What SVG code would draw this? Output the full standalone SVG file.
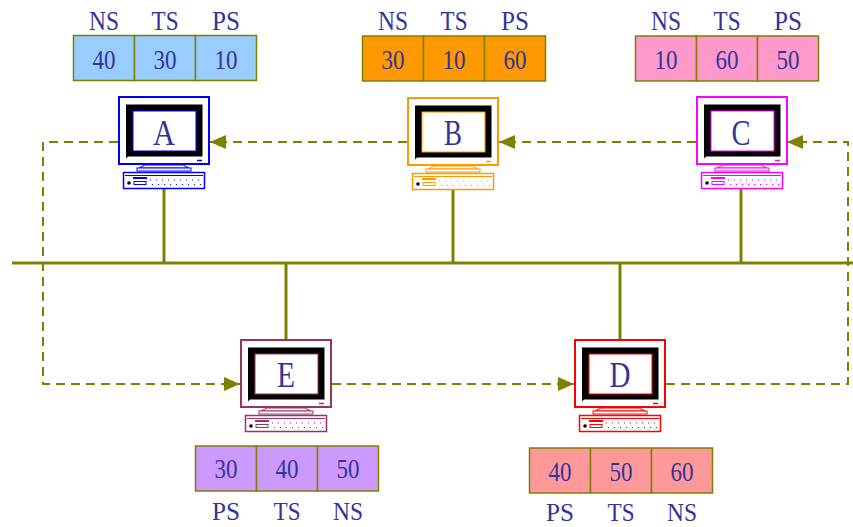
<svg xmlns="http://www.w3.org/2000/svg" xmlns:xlink="http://www.w3.org/1999/xlink" width="853" height="527" viewBox="0 0 853 527">
<style>
  .t{font-family:"Liberation Serif","Times New Roman",serif;fill:#333399;text-anchor:middle}
  .h{font-size:27px}
  .hb{font-size:26px}
  .v{font-size:28px}
  .lbl{font-size:36px}
  .cell{stroke:#808000;stroke-width:1.5}
  .bus{stroke:#808000;stroke-width:3;fill:none}
  .ring{stroke:#808000;stroke-width:2;fill:none;stroke-dasharray:9 6}
</style>
<defs>
  <marker id="arr" markerUnits="userSpaceOnUse" markerWidth="16" markerHeight="14" refX="16" refY="7" orient="auto" viewBox="0 0 16 14">
    <path d="M0,0 L16,7 L0,14 Z" fill="#808000"/>
  </marker>
  <g id="pc" fill="#fff" stroke="currentColor">
    <rect x="1" y="1" width="90" height="67" stroke-width="2"/>
    <path d="M8,8.5 H84.5 V60.5 H10 L8,62.5 Z" fill="#000" stroke="none"/>
    <rect x="15" y="15" width="63" height="40" stroke-width="1"/>
    <line x1="79" y1="64.5" x2="84" y2="64.5" stroke-width="1.5"/>
    <path d="M27,69 L65,69 L71,72 L21,72 Z" stroke-width="1"/>
    <rect x="19" y="72" width="54" height="3" stroke-width="1"/>
    <rect x="5.5" y="76.5" width="81" height="16" stroke-width="1.5"/>
    <line x1="7" y1="79.5" x2="85" y2="79.5" stroke-width="1"/>
    <line x1="15" y1="82" x2="29" y2="82" stroke-width="2"/>
    <circle cx="11" cy="87" r="1.8" fill="#000" stroke="none"/>
    <rect x="16" y="85.5" width="12" height="3" stroke-width="1"/>
    <line x1="32" y1="84" x2="84" y2="84" stroke-width="1.2" stroke-dasharray="1 5"/>
    <line x1="34" y1="88.5" x2="84" y2="88.5" stroke-width="1.2" stroke-dasharray="1 5"/>
  </g>
</defs>
<rect width="853" height="527" fill="#fff"/>

<g id="connectors">
  <line class="bus" x1="12" y1="263" x2="853" y2="263"/>
  <line class="bus" x1="164" y1="189" x2="164" y2="263"/>
  <line class="bus" x1="453" y1="189" x2="453" y2="263"/>
  <line class="bus" x1="741" y1="189" x2="741" y2="263"/>
  <line class="bus" x1="286" y1="263" x2="286" y2="339"/>
  <line class="bus" x1="620" y1="263" x2="620" y2="339"/>
  <path class="ring" d="M407,142 H210" marker-end="url(#arr)"/>
  <path class="ring" d="M696,142 H499" marker-end="url(#arr)"/>
  <path class="ring" d="M666,384 H848 V142 H787" marker-end="url(#arr)"/>
  <path class="ring" d="M332,384 H574" marker-end="url(#arr)"/>
  <path class="ring" d="M118,142 H43 V384 H240" marker-end="url(#arr)"/>
</g>

<g id="nodeA">
  <use xlink:href="#pc" href="#pc" x="118" y="96" style="color:#0000ff"/>
  <text class="t lbl" x="164" y="145" textLength="22" lengthAdjust="spacingAndGlyphs">A</text>
</g>
<g id="nodeB">
  <use xlink:href="#pc" href="#pc" x="407" y="97" style="color:#ff9900"/>
  <text class="t lbl" x="453" y="145" textLength="18" lengthAdjust="spacingAndGlyphs">B</text>
</g>
<g id="nodeC">
  <use xlink:href="#pc" href="#pc" x="696" y="96" style="color:#ff00ff"/>
  <text class="t lbl" x="741" y="145" textLength="19" lengthAdjust="spacingAndGlyphs">C</text>
</g>
<g id="nodeE">
  <use xlink:href="#pc" href="#pc" x="240" y="339" style="color:#993366"/>
  <text class="t lbl" x="286" y="387" textLength="18" lengthAdjust="spacingAndGlyphs">E</text>
</g>
<g id="nodeD">
  <use xlink:href="#pc" href="#pc" x="574" y="339" style="color:#ff0000"/>
  <text class="t lbl" x="620" y="387" textLength="21" lengthAdjust="spacingAndGlyphs">D</text>
</g>

<g id="tableA">
  <rect class="cell" x="73.5" y="35.5" width="61" height="45" fill="#99ccff"/>
  <rect class="cell" x="134.5" y="35.5" width="61" height="45" fill="#99ccff"/>
  <rect class="cell" x="195.5" y="35.5" width="61" height="45" fill="#99ccff"/>
  <text class="t h" x="104" y="30" textLength="30" lengthAdjust="spacingAndGlyphs">NS</text>
  <text class="t h" x="165" y="30" textLength="27" lengthAdjust="spacingAndGlyphs">TS</text>
  <text class="t h" x="226" y="30" textLength="28" lengthAdjust="spacingAndGlyphs">PS</text>
  <text class="t v" x="104" y="69" textLength="23" lengthAdjust="spacingAndGlyphs">40</text>
  <text class="t v" x="165" y="69" textLength="23" lengthAdjust="spacingAndGlyphs">30</text>
  <text class="t v" x="226" y="69" textLength="23" lengthAdjust="spacingAndGlyphs">10</text>
</g>
<g id="tableB">
  <rect class="cell" x="362.5" y="36" width="61" height="45" fill="#ff9900"/>
  <rect class="cell" x="423.5" y="36" width="61" height="45" fill="#ff9900"/>
  <rect class="cell" x="484.5" y="36" width="61" height="45" fill="#ff9900"/>
  <text class="t h" x="393" y="30" textLength="30" lengthAdjust="spacingAndGlyphs">NS</text>
  <text class="t h" x="454" y="30" textLength="27" lengthAdjust="spacingAndGlyphs">TS</text>
  <text class="t h" x="515" y="30" textLength="28" lengthAdjust="spacingAndGlyphs">PS</text>
  <text class="t v" x="393" y="69" textLength="23" lengthAdjust="spacingAndGlyphs">30</text>
  <text class="t v" x="454" y="69" textLength="23" lengthAdjust="spacingAndGlyphs">10</text>
  <text class="t v" x="515" y="69" textLength="23" lengthAdjust="spacingAndGlyphs">60</text>
</g>
<g id="tableC">
  <rect class="cell" x="635.5" y="36" width="61" height="45" fill="#ff99cc"/>
  <rect class="cell" x="696.5" y="36" width="61" height="45" fill="#ff99cc"/>
  <rect class="cell" x="757.5" y="36" width="61" height="45" fill="#ff99cc"/>
  <text class="t h" x="666" y="30" textLength="30" lengthAdjust="spacingAndGlyphs">NS</text>
  <text class="t h" x="727" y="30" textLength="27" lengthAdjust="spacingAndGlyphs">TS</text>
  <text class="t h" x="788" y="30" textLength="28" lengthAdjust="spacingAndGlyphs">PS</text>
  <text class="t v" x="666" y="69" textLength="23" lengthAdjust="spacingAndGlyphs">10</text>
  <text class="t v" x="727" y="69" textLength="23" lengthAdjust="spacingAndGlyphs">60</text>
  <text class="t v" x="788" y="69" textLength="23" lengthAdjust="spacingAndGlyphs">50</text>
</g>
<g id="tableE">
  <rect class="cell" x="195.5" y="446" width="61" height="45" fill="#cc99ff"/>
  <rect class="cell" x="256.5" y="446" width="61" height="45" fill="#cc99ff"/>
  <rect class="cell" x="317.5" y="446" width="61" height="45" fill="#cc99ff"/>
  <text class="t v" x="226" y="478" textLength="23" lengthAdjust="spacingAndGlyphs">30</text>
  <text class="t v" x="287" y="478" textLength="23" lengthAdjust="spacingAndGlyphs">40</text>
  <text class="t v" x="348" y="478" textLength="23" lengthAdjust="spacingAndGlyphs">50</text>
  <text class="t hb" x="226" y="520" textLength="28" lengthAdjust="spacingAndGlyphs">PS</text>
  <text class="t hb" x="287" y="520" textLength="27" lengthAdjust="spacingAndGlyphs">TS</text>
  <text class="t hb" x="348" y="520" textLength="30" lengthAdjust="spacingAndGlyphs">NS</text>
</g>
<g id="tableD">
  <rect class="cell" x="529.5" y="448" width="61" height="45" fill="#ff9999"/>
  <rect class="cell" x="590.5" y="448" width="61" height="45" fill="#ff9999"/>
  <rect class="cell" x="651.5" y="448" width="61" height="45" fill="#ff9999"/>
  <text class="t v" x="560" y="481" textLength="23" lengthAdjust="spacingAndGlyphs">40</text>
  <text class="t v" x="621" y="481" textLength="23" lengthAdjust="spacingAndGlyphs">50</text>
  <text class="t v" x="682" y="481" textLength="23" lengthAdjust="spacingAndGlyphs">60</text>
  <text class="t hb" x="560" y="521" textLength="28" lengthAdjust="spacingAndGlyphs">PS</text>
  <text class="t hb" x="621" y="521" textLength="27" lengthAdjust="spacingAndGlyphs">TS</text>
  <text class="t hb" x="682" y="521" textLength="30" lengthAdjust="spacingAndGlyphs">NS</text>
</g>
</svg>
